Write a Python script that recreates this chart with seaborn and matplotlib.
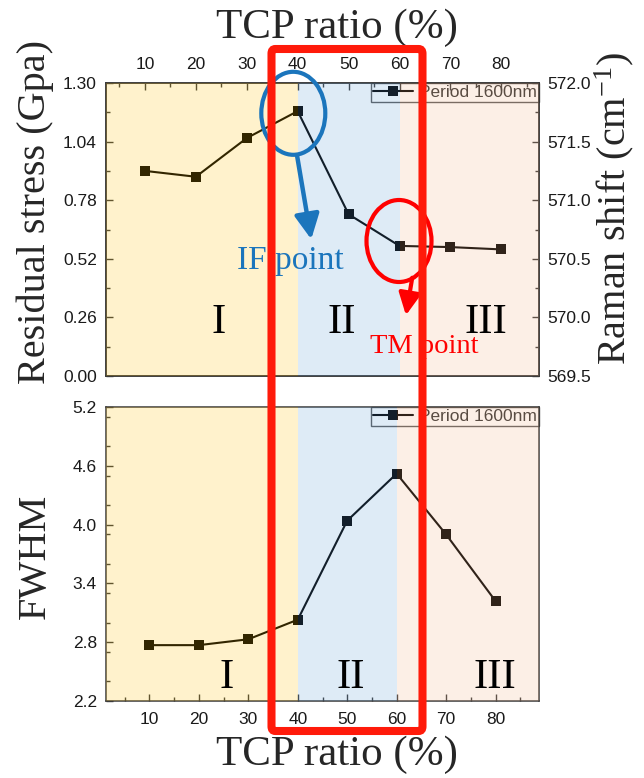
import numpy as np
import pandas as pd
import seaborn as sns
import matplotlib.pyplot as plt
from matplotlib.patches import FancyBboxPatch, Ellipse, FancyArrowPatch
from matplotlib.ticker import MultipleLocator, FixedLocator
from matplotlib.transforms import blended_transform_factory

# ---- data ---------------------------------------------------------------
tcp_ratio = [10, 20, 30, 40, 50, 60, 70, 80]
raman_shift = [571.25, 571.20, 571.53, 571.76, 570.88, 570.61, 570.60, 570.58]
fwhm = [2.77, 2.77, 2.83, 3.03, 4.04, 4.52, 3.90, 3.22]

x_ticks = [10, 20, 30, 40, 50, 60, 70, 80]
stress_ticks = [0.00, 0.26, 0.52, 0.78, 1.04, 1.30]
raman_ticks = [569.5, 570.0, 570.5, 571.0, 571.5, 572.0]
fwhm_ticks = [2.2, 2.8, 3.4, 4.0, 4.6, 5.2]

region_names = ["I", "II", "III"]
region_edges = [40, 60]
region_colors = ["#FFC000", "#5B9BD5", "#F4B183"]

series_label = "Period 1600nm"

df = pd.DataFrame({"tcp": tcp_ratio, "raman": raman_shift, "fwhm": fwhm})

# ---- style --------------------------------------------------------------
sns.set_theme(style="ticks")
plt.rcParams["font.family"] = ["Liberation Sans", "DejaVu Sans"]
plt.rcParams["mathtext.fontset"] = "custom"
plt.rcParams["mathtext.rm"] = "Liberation Serif"
plt.rcParams["mathtext.it"] = "Liberation Serif:italic"
SERIF = ["Liberation Serif", "DejaVu Serif"]
SPINE = "#3a3a3a"
TICKLBL = "#1a1a1a"

W, H = 644, 778
fig = plt.figure(figsize=(W / 100, H / 100), dpi=100)


def fx(px):
    return px / W


def fy(py):
    return 1 - py / H


def add_axes_px(left, top, right, bottom):
    return fig.add_axes([fx(left), fy(bottom), (right - left) / W, (bottom - top) / H])


ax_top = add_axes_px(106, 83, 539, 376)
ax_r = ax_top.twinx()
ax_bot = add_axes_px(106, 407, 539, 701)

# ---- top panel: Raman shift / residual stress ----------------------------
sns.lineplot(data=df, x="tcp", y="raman", ax=ax_r, color="black", marker="s",
             markersize=7.5, markeredgewidth=0, linewidth=1.5, label=series_label)

ax_top.set_xlim(2.35, 87.4)
ax_top.set_ylim(stress_ticks[0], stress_ticks[-1])
ax_r.set_ylim(raman_ticks[0], raman_ticks[-1])

ax_top.xaxis.set_major_locator(FixedLocator(x_ticks))
ax_top.xaxis.set_minor_locator(MultipleLocator(5))
ax_top.yaxis.set_major_locator(FixedLocator(stress_ticks))
ax_top.yaxis.set_minor_locator(MultipleLocator(0.13))
ax_top.set_yticklabels([f"{v:.2f}" for v in stress_ticks])
ax_r.yaxis.set_major_locator(FixedLocator(raman_ticks))
ax_r.yaxis.set_minor_locator(MultipleLocator(0.25))
ax_r.set_yticklabels([f"{v:.1f}" for v in raman_ticks])

ax_top.xaxis.tick_top()
ax_top.tick_params(axis="x", which="both", direction="in", top=True, bottom=False,
                   labeltop=True, labelbottom=False, pad=8, labelsize=12.5,
                   colors=SPINE, labelcolor=TICKLBL)
ax_top.tick_params(axis="y", which="both", direction="in", left=True, right=False,
                   pad=6.5, labelsize=12.5, colors=SPINE, labelcolor=TICKLBL)
ax_r.tick_params(axis="y", which="both", direction="in", right=True, pad=6,
                 labelsize=12.5, colors=SPINE, labelcolor=TICKLBL)
for a in (ax_top, ax_r, ax_bot):
    a.tick_params(which="major", length=5, width=1)
    a.tick_params(which="minor", length=3, width=1)
    a.set_xlabel("")
    a.set_ylabel("")
    for s in a.spines.values():
        s.set_color(SPINE)
        s.set_linewidth(1.1)
        s.set_visible(True)
ax_r.patch.set_visible(False)

# ---- bottom panel: FWHM -------------------------------------------------
sns.lineplot(data=df, x="tcp", y="fwhm", ax=ax_bot, color="black", marker="s",
             markersize=7.5, markeredgewidth=0, linewidth=1.5, label=series_label)
ax_bot.set_xlim(1.2, 88.8)
ax_bot.set_ylim(fwhm_ticks[0], fwhm_ticks[-1])
ax_bot.xaxis.set_major_locator(FixedLocator(x_ticks))
ax_bot.xaxis.set_minor_locator(MultipleLocator(5))
ax_bot.yaxis.set_major_locator(FixedLocator(fwhm_ticks))
ax_bot.yaxis.set_minor_locator(MultipleLocator(0.3))
ax_bot.set_yticklabels([f"{v:.1f}" for v in fwhm_ticks])
ax_bot.tick_params(axis="x", which="both", direction="in", top=False, bottom=True,
                   pad=8, labelsize=12.5, colors=SPINE, labelcolor=TICKLBL)
ax_bot.tick_params(axis="y", which="both", direction="in", left=True, right=False,
                   pad=6.5, labelsize=12.5, colors=SPINE, labelcolor=TICKLBL)
ax_bot.set_xlabel("")
ax_bot.set_ylabel("")

# ---- legends ------------------------------------------------------------
for a in (ax_r, ax_bot):
    leg = a.legend(loc="upper right", fontsize=12.5, frameon=True, fancybox=False,
                   borderaxespad=0, borderpad=0.12, handlelength=2.3,
                   handletextpad=0.35, labelcolor="#333333")
    leg.get_frame().set_edgecolor("#333333")
    leg.get_frame().set_facecolor("none")
    leg.get_frame().set_linewidth(1.0)
if ax_top.get_legend() is not None:
    ax_top.get_legend().remove()

# ---- translucent region shading, laid over the data ---------------------
for a, lo_hi in ((ax_r, ax_top.get_xlim()), (ax_bot, ax_bot.get_xlim())):
    bounds = [lo_hi[0]] + region_edges + [lo_hi[1]]
    for i, c in enumerate(region_colors):
        a.axvspan(bounds[i], bounds[i + 1], color=c, alpha=0.2, lw=0, zorder=10)

# ---- region numerals ----------------------------------------------------
top_num_x = [24.5, 48.7, 76.9]
bot_num_x = [25.7, 50.8, 79.8]
tr_top = blended_transform_factory(ax_r.transData, ax_r.transAxes)
tr_bot = blended_transform_factory(ax_bot.transData, ax_bot.transAxes)
for name, xt, xb in zip(region_names, top_num_x, bot_num_x):
    ax_r.text(xt, 0.147, name, transform=tr_top, ha="center", va="baseline",
              fontsize=31, family=SERIF, color="black", zorder=12)
    ax_bot.text(xb, 0.044, name, transform=tr_bot, ha="center", va="baseline",
                fontsize=31, family=SERIF, color="black", zorder=12)

# ---- axis titles ----------------------------------------------------------
fig.text(fx(337), fy(38), "TCP ratio (%)", ha="center", va="baseline",
         fontsize=31, family=SERIF)
fig.text(fx(337), fy(765), "TCP ratio (%)", ha="center", va="baseline",
         fontsize=31, family=SERIF)
fig.text(fx(35), fy(212), "Residual stress (Gpa)", ha="center", va="center",
         rotation=90, fontsize=29, family=SERIF)
fig.text(fx(35), fy(556), "FWHM", ha="center", va="center",
         rotation=90, fontsize=29, family=SERIF)
fig.text(fx(614), fy(208), r"Raman shift (cm$^{\mathregular{-1}}$)", ha="center",
         va="center", rotation=90, fontsize=29, family=SERIF)

# ---- callouts -------------------------------------------------------------
BLUE = "#1B75BC"
RED = "#FF0000"
fig.add_artist(Ellipse((fx(293.3), fy(113.3)), 64 / W, 83 / H, transform=fig.transFigure,
                       fill=False, ec=BLUE, lw=3.0, zorder=30))
fig.add_artist(FancyArrowPatch((fx(296.7), fy(153.5)), (fx(311.7), fy(242)),
                               transform=fig.transFigure,
                               arrowstyle="-|>,head_length=0.6,head_width=0.3",
                               mutation_scale=25, lw=3.2, color=BLUE, zorder=30))
fig.text(fx(290.5), fy(269), "IF point", ha="center", va="baseline", fontsize=24,
         family=SERIF, color=BLUE, zorder=30)

fig.add_artist(Ellipse((fx(399), fy(241)), 65 / W, 82 / H, transform=fig.transFigure,
                       fill=False, ec=RED, lw=3.0, zorder=30))
fig.add_artist(FancyArrowPatch((fx(412.7), fy(275)), (fx(405.5), fy(318)),
                               transform=fig.transFigure,
                               arrowstyle="-|>,head_length=0.6,head_width=0.3",
                               mutation_scale=22, lw=3.0, color=RED, zorder=30))
fig.text(fx(370), fy(353), "TM point", ha="left", va="baseline", fontsize=20.5,
         family=SERIF, color=RED, zorder=30)

fig.add_artist(FancyBboxPatch((fx(271.5), fy(731)), (422.5 - 271.5) / W, (731 - 49) / H,
                              boxstyle="round,pad=0,rounding_size=0.006",
                              transform=fig.transFigure, fill=False, ec="#FF1A0A",
                              lw=5.8, zorder=31))

fig.savefig("out.png", dpi=100)
